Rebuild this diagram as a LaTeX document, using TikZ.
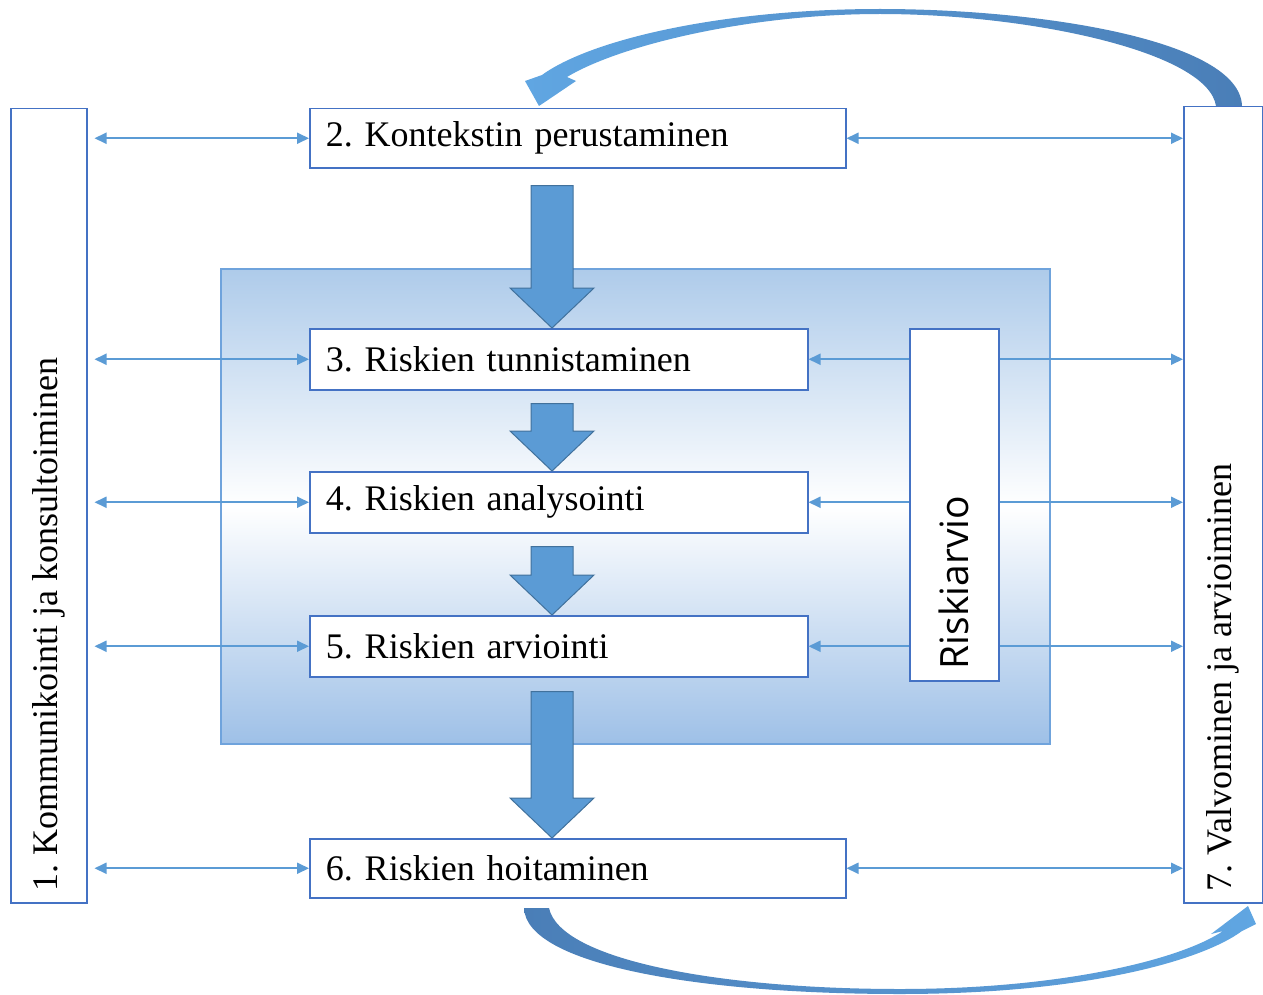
\documentclass[tikz,border=0pt]{standalone}
\usepackage{fontspec}
\setmainfont{Liberation Serif}
\newfontfamily\riskfont{Open Sans}
\usetikzlibrary{arrows.meta,calc}
\frenchspacing

\definecolor{boxblue}{HTML}{4472C4}
\definecolor{linkblue}{HTML}{5B9BD5}
\definecolor{arrowfill}{HTML}{5B9BD5}
\definecolor{arrowedge}{HTML}{41719C}
\definecolor{paneltop}{HTML}{AECBEA}
\definecolor{panelbottom}{HTML}{9EC0E7}
\definecolor{panelframe}{HTML}{6FA3DC}
\definecolor{curvedark}{HTML}{4A7EB7}
\definecolor{curvelight}{HTML}{60A6E2}

% block arrow from below node #1 down to the top of node #2, shaft starting #3 below #1
\newcommand\blockarrow[3]{%
  \draw[bigarrow] let \p1=(axis |- #1), \p2=(axis |- #2) in
    (\x1-10.5pt,\y1-#3) -- (\x1+10.5pt,\y1-#3) -- (\x1+10.5pt,\y2+20pt)
    -- (\x1+21pt,\y2+20pt) -- (\x2,\y2) -- (\x1-21pt,\y2+20pt)
    -- (\x1-10.5pt,\y2+20pt) -- cycle;}

\begin{document}
\begin{tikzpicture}[x=0.5pt,y=-0.5pt,
  >={Triangle[length=6pt,width=5.5pt]},
  txt/.style={font=\fontsize{18}{22}\selectfont},
  stepbox/.style={txt, draw=boxblue, line width=0.75pt, fill=white,
    anchor=north west, inner sep=0pt, inner xsep=8pt, align=left},
  widebox/.style={stepbox, text width=252pt, minimum height=29.5pt},
  midbox/.style={stepbox, text width=233pt, minimum height=30.5pt},
  sidebox/.style={draw=boxblue, line width=0.75pt, fill=white,
    anchor=north west, inner sep=0pt},
  sidelabel/.style={txt, rotate=90, anchor=west, inner sep=0pt},
  link/.style={draw=linkblue, line width=0.9pt, <->},
  onelink/.style={draw=linkblue, line width=0.9pt, ->},
  bigarrow/.style={fill=arrowfill, draw=arrowedge, line width=0.5pt},
  panel/.style={anchor=north west, inner sep=0pt, draw=panelframe,
    line width=0.8pt, top color=paneltop, bottom color=panelbottom,
    middle color=white}]

\useasboundingbox (0,0) rectangle (1263,995);

% shaded frame round the risk assessment steps
\node[panel, minimum width=414.5pt, minimum height=237.5pt] (panel) at (220,268) {};

% side columns
\node[sidebox, minimum width=38pt, minimum height=397pt] (b1) at (10,108) {};
\node[sidebox, minimum width=39.5pt, minimum height=398pt] (b7) at (1183,106) {};
\node[sidelabel] at ($(b1.south)+(0,-12)$) {1. Kommunikointi ja konsultoiminen};
\node[sidelabel] at ($(b7.south)+(0,-12)$) {7. Valvominen ja arvioiminen};

% process steps
\node[widebox] (b2) at (309,108) {2. Kontekstin perustaminen};
\node[midbox] (b3) at (309,328) {3. Riskien tunnistaminen};
\node[midbox] (b4) at (309,471) {4. Riskien analysointi};
\node[midbox] (b5) at (309,615) {5. Riskien arviointi};
\node[widebox] (b6) at (309,838) {6. Riskien hoitaminen};

% risk assessment bracket
\node[sidebox, minimum width=44.5pt, minimum height=176pt] (rk) at (909,328) {};
\node[sidelabel, font=\riskfont\fontsize{19.5}{22}\selectfont] at ($(rk.south)+(0,-12)$) {Riskiarvio};

% communication links on the left
\foreach \b in {b2,b3,b4,b5,b6}
  \draw[link, shorten <=3.5pt] (b1.east |- \b.west) -- (\b.west);

% monitoring links on the right
\draw[link] (b2.east) -- (b7.west |- b2.east);
\draw[link] (b6.east) -- (b7.west |- b6.east);
\foreach \b in {b3,b4,b5}{
  \draw[onelink] (rk.west |- \b.east) -- (\b.east);
  \draw[onelink] (rk.east |- \b.east) -- (b7.west |- \b.east);
}

% main flow
\coordinate (axis) at (552,0);
\blockarrow{b2.south}{b3.north}{8.5pt}
\blockarrow{b3.south}{b4.north}{6.5pt}
\blockarrow{b4.south}{b5.north}{6.5pt}
\blockarrow{b5.south}{b6.north}{7pt}

% feedback from monitoring back to context
\shade[left color=curvelight, right color=curvedark]
  (1242,106) .. controls (1240,40) and (1040,9) .. (880,9)
  .. controls (720,9) and (590,40) .. (542,75)
  -- (525,81) -- (539,106) -- (576,81) -- (567,77)
  .. controls (620,45) and (750,14) .. (880,14)
  .. controls (1030,14) and (1208,52) .. (1216,106) -- cycle;

% treatment feeding into monitoring
\shade[left color=curvedark, right color=curvelight]
  (524,908) .. controls (526,965) and (700,994) .. (900,994)
  .. controls (1080,994) and (1200,962) .. (1242,931)
  -- (1256,924) -- (1248,906) -- (1211,934) -- (1223,931)
  .. controls (1180,960) and (1060,989) .. (900,989)
  .. controls (720,989) and (560,960) .. (549,908) -- cycle;

\end{tikzpicture}
\end{document}
